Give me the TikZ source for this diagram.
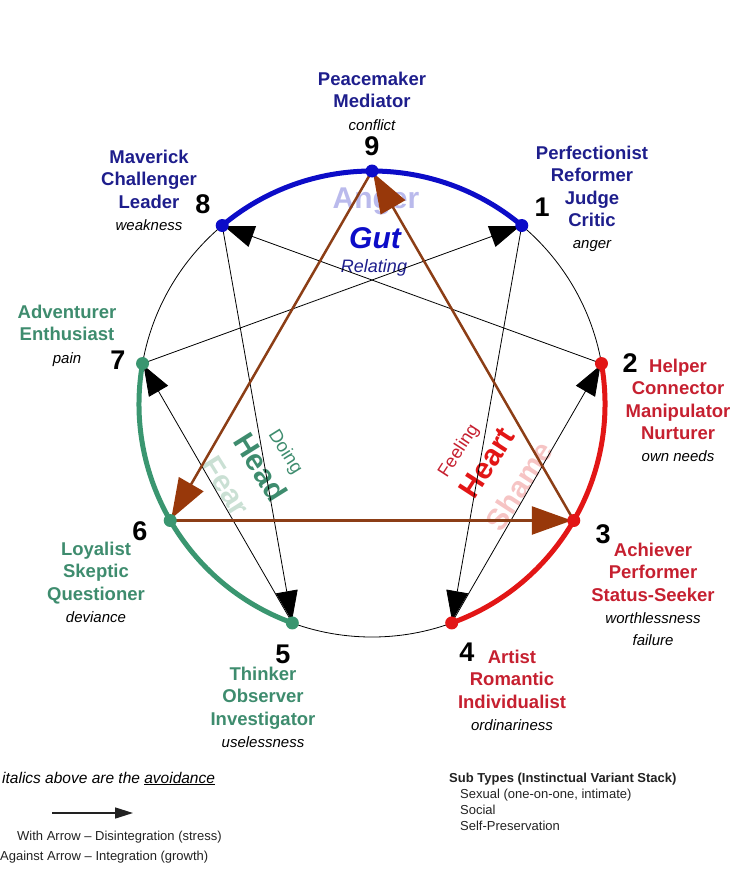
\documentclass[tikz,border=0pt]{standalone}
\usepackage{fontspec}
\setmainfont{Liberation Sans}
\usetikzlibrary{arrows.meta,calc}

\definecolor{gutblue}{RGB}{12,12,200}
\definecolor{gutink}{RGB}{30,30,140}
\definecolor{gutpale}{RGB}{186,186,236}
\definecolor{heartred}{RGB}{226,22,22}
\definecolor{heartink}{RGB}{198,32,48}
\definecolor{heartpale}{RGB}{246,196,196}
\definecolor{headgreen}{RGB}{58,150,112}
\definecolor{headink}{RGB}{62,140,110}
\definecolor{headpale}{RGB}{202,224,212}
\definecolor{triadbrown}{RGB}{140,62,22}
\definecolor{tipbrown}{RGB}{152,56,10}
\definecolor{legendgray}{RGB}{34,34,34}

\tikzset{
  ring/.style={line width=0.8pt},
  arcline/.style={line width=5pt},
  flow/.style={line width=0.8pt,-{Triangle[length=30pt,width=22pt]},shorten >=2pt},
  triad/.style={line width=2.5pt,draw=triadbrown,-{Triangle[length=40pt,width=28pt,color=tipbrown]},shorten >=2pt},
  dot/.style={circle,fill=#1,inner sep=0pt,minimum size=13pt},
  typelbl/.style={anchor=north,align=center,inner sep=0pt,text=#1,font=\bfseries\fontsize{18.5}{22.3}\selectfont},
  numlbl/.style={inner sep=0pt,font=\bfseries\fontsize{27}{27}\selectfont},
  centre/.style={inner sep=0pt,font=\bfseries\fontsize{30}{30}\selectfont},
  legend/.style={inner sep=0pt,text=legendgray,font=\fontsize{13}{16}\selectfont}
}
\newcommand\avoid[1]{{\mdseries\itshape\fontsize{15}{22.3}\selectfont\color{black}#1}}

\begin{document}
\begin{tikzpicture}[x=1pt,y=-1pt]
\useasboundingbox (0,0) rectangle (736,888);
\coordinate (c) at (372,404);
\foreach \k in {1,...,9}
  \coordinate (p\k) at ($(c)+(40*\k-90:233)$);

% centre words
\node[centre,text=gutpale,anchor=base] (anger) at (376,208) {Anger};
\node[centre,text=gutblue,anchor=base,font=\bfseries\itshape\fontsize{30}{30}\selectfont] (gut) at (375,248) {Gut};
\node[inner sep=0pt,anchor=base,text=gutink,font=\itshape\fontsize{18}{18}\selectfont] (relating) at (374,272) {Relating};
\node[centre,text=headpale,rotate=-58] (fear) at (226,486) {Fear};
\node[centre,text=headink,rotate=-58] (head) at (261,467) {Head};
\node[inner sep=0pt,text=headink,rotate=-58,font=\fontsize{18.5}{18}\selectfont] (doing) at (285,452) {Doing};
\node[centre,text=heartpale,rotate=57] (shame) at (519,486) {Shame};
\node[centre,text=heartred,rotate=57] (heart) at (487,463) {Heart};
\node[inner sep=0pt,text=heartink,rotate=57,font=\fontsize{18}{18}\selectfont] (feeling) at (459,451) {Feeling};

% circle and centres
\draw[ring] (c) circle[radius=233];
\draw[arcline,gutblue] (p8) arc[start angle=230,end angle=310,radius=233];
\draw[arcline,heartred] (p2) arc[start angle=-10,end angle=70,radius=233];
\draw[arcline,headgreen] (p5) arc[start angle=110,end angle=190,radius=233];

% stress lines
\foreach \a/\b in {7/1,1/4,4/2,2/8,8/5,5/7}
  \draw[flow] (p\a) -- (p\b);
\foreach \a/\b in {9/6,6/3,3/9}
  \draw[triad] (p\a) -- (p\b);

\foreach \k/\col in {8/gutblue,9/gutblue,1/gutblue,2/heartred,3/heartred,4/heartred,5/headgreen,6/headgreen,7/headgreen}
  \node[dot=\col] (d\k) at (p\k) {};

% numbers
\node[numlbl] (n9) at (372,146) {9};
\node[numlbl] (n1) at (542,207) {1};
\node[numlbl] (n2) at (630,363) {2};
\node[numlbl] (n3) at (603,534) {3};
\node[numlbl] (n4) at (467,652) {4};
\node[numlbl] (n5) at (283,654) {5};
\node[numlbl] (n6) at (140,531) {6};
\node[numlbl] (n7) at (118,360) {7};
\node[numlbl] (n8) at (203,204) {8};

% type names
\node[typelbl=gutink] (t9) at (372,72) {Peacemaker\\Mediator\\\avoid{conflict}};
\node[typelbl=gutink] (t1) at (592,146) {Perfectionist\\Reformer\\Judge\\Critic\\\avoid{anger}};
\node[typelbl=heartink] (t2) at (678,359) {Helper\\Connector\\Manipulator\\Nurturer\\\avoid{own needs}};
\node[typelbl=heartink] (t3) at (653,543) {Achiever\\Performer\\Status-Seeker\\\avoid{worthlessness}\\\avoid{failure}};
\node[typelbl=heartink] (t4) at (512,650) {Artist\\Romantic\\Individualist\\\avoid{ordinariness}};
\node[typelbl=headink] (t5) at (263,667) {Thinker\\Observer\\Investigator\\\avoid{uselessness}};
\node[typelbl=headink] (t6) at (96,542) {Loyalist\\Skeptic\\Questioner\\\avoid{deviance}};
\node[typelbl=headink] (t7) at (67,305) {Adventurer\\Enthusiast\\\avoid{pain}};
\node[typelbl=gutink] (t8) at (149,150) {Maverick\\Challenger\\Leader\\\avoid{weakness}};

% legend
\node[inner sep=0pt,anchor=base west,font=\itshape\fontsize{15.5}{18}\selectfont] (note) at (2,783) {italics above are the \underline{avoidance}};
\coordinate (la) at (52,813);
\coordinate (lb) at (133,813);
\draw[line width=1.5pt,legendgray,-{Triangle[length=18pt,width=11pt]}] (la) -- (lb);
\node[legend,anchor=base west] (with) at (17,840) {With Arrow -- Disintegration (stress)};
\node[legend,anchor=base west] (against) at (0,860) {Against Arrow -- Integration (growth)};
\node[legend,anchor=base west,font=\bfseries\fontsize{13}{16}\selectfont] (subs) at (449,782) {Sub Types (Instinctual Variant Stack)};
\node[legend,anchor=base west] (sub1) at (460,798) {Sexual (one-on-one, intimate)};
\node[legend,anchor=base west] (sub2) at (460,814) {Social};
\node[legend,anchor=base west] (sub3) at (460,830) {Self-Preservation};
\end{tikzpicture}
\end{document}
